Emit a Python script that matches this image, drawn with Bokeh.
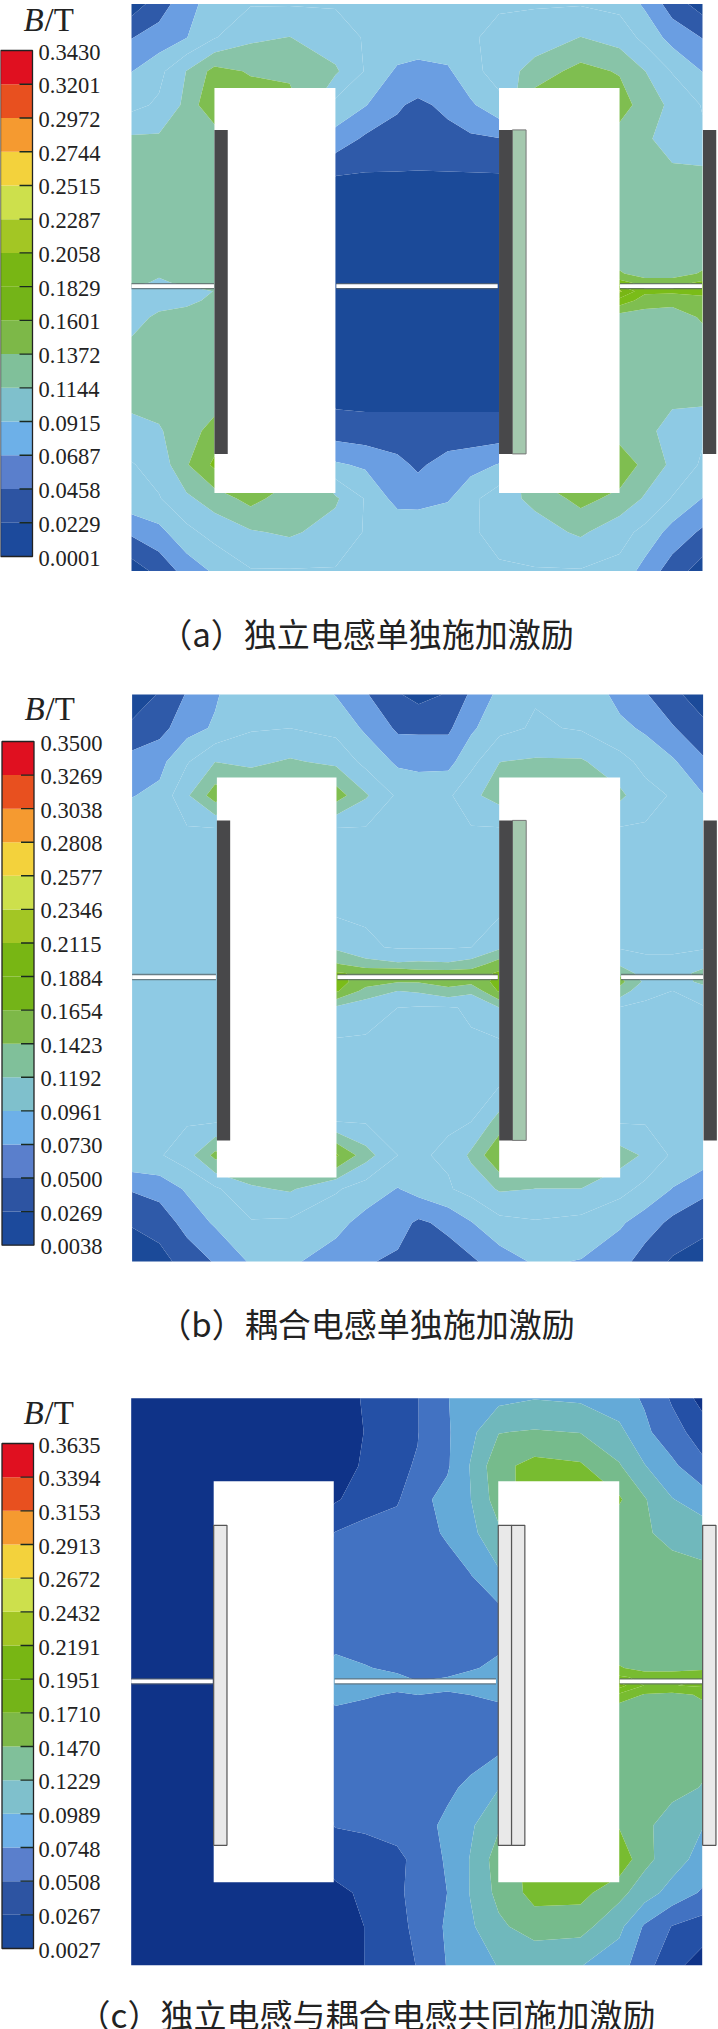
from bokeh.plotting import figure
from bokeh.models import Range1d
from bokeh.core.properties import value
from bokeh.embed import file_html
from bokeh.resources import INLINE
import numpy as np

# ---------- data ----------
caption_a = "（a）独立电感单独施加激励"
caption_b = "（b）耦合电感单独施加激励"
caption_c = "（c）独立电感与耦合电感共同施加激励"

ticks_a = ["0.0001","0.0229","0.0458","0.0687","0.0915","0.1144","0.1372","0.1601","0.1829","0.2058","0.2287","0.2515","0.2744","0.2972","0.3201","0.3430"]
ticks_b = ["0.0038","0.0269","0.0500","0.0730","0.0961","0.1192","0.1423","0.1654","0.1884","0.2115","0.2346","0.2577","0.2808","0.3038","0.3269","0.3500"]
ticks_c = ["0.0027","0.0267","0.0508","0.0748","0.0989","0.1229","0.1470","0.1710","0.1951","0.2191","0.2432","0.2672","0.2913","0.3153","0.3394","0.3635"]

# mesh nodes of the section (arbitrary length units across / down the core)
mesh_x = [0,60,120,181,260,345,445,510,580,625,690,740,802,880,980,1065,1120,1180,1246]
mesh_y = [0,80,160,240,320,420,520,600,640,662,682,704,744,824,924,1014,1094,1174,1254,1346]

# flux density at the mesh nodes, millitesla
field_a = [
 [10,35,60,80,90,90,90,90,90,90,90,90,90,90,90,85,65,35,12],
 [45,55,68,90,110,115,100,90,85,85,85,90,95,100,115,105,85,60,45],
 [68,85,115,145,135,130,118,90,65,60,65,85,100,125,145,135,115,90,68],
 [85,95,120,160,150,150,85,70,48,42,50,65,85,150,150,150,125,110,90],
 [118,118,118,120,125,125,60,42,40,38,40,42,45,125,125,125,120,100,95],
 [125,125,125,125,125,125,18,18,18,18,18,18,18,125,125,125,125,125,125],
 [125,125,125,125,125,125,10,10,10,10,10,10,10,125,125,125,125,125,125],
 [125,125,125,125,125,125,10,10,10,10,10,10,10,125,125,125,125,125,125],
 [118,118,120,125,125,125,10,10,10,10,10,10,10,125,125,140,125,125,140],
 [122,110,120,125,125,125,10,10,10,10,10,10,10,150,150,170,150,150,165],
 [105,100,105,115,125,125,10,10,10,10,10,10,10,165,165,210,165,165,165],
 [95,100,108,120,125,125,10,10,10,10,10,10,10,150,150,175,150,145,155],
 [100,122,125,125,125,125,12,12,12,12,12,12,12,125,125,125,125,125,140],
 [125,125,125,125,125,125,10,10,10,10,10,10,10,125,125,125,125,125,125],
 [125,125,125,125,125,125,14,14,14,14,14,14,14,125,125,125,125,125,125],
 [105,112,128,145,140,140,35,32,32,32,32,32,32,125,125,125,125,100,95],
 [90,100,135,165,150,150,72,65,52,42,55,60,70,150,150,155,130,110,88],
 [85,90,110,125,145,125,118,90,60,58,66,85,105,120,145,130,112,90,68],
 [50,62,85,100,112,118,105,90,88,90,90,90,95,105,118,100,85,60,42],
 [10,30,55,72,90,90,90,90,90,90,90,90,90,90,90,85,60,35,12],
]
field_b = [
 [12,29,52,70,94,92,72,52,29,19,29,54,79,94,94,64,52,32,16],
 [32,42,64,76,94,96,89,69,46,46,46,69,89,99,94,79,69,52,32],
 [59,66,94,119,114,122,114,89,69,66,66,89,119,122,122,104,89,76,54],
 [72,79,116,154,144,144,154,122,92,89,92,114,129,124,124,124,104,94,74],
 [89,94,94,94,94,94,94,94,94,94,94,94,94,94,94,94,94,94,89],
 [94,94,94,94,94,94,94,94,94,94,94,94,94,94,94,94,94,94,94],
 [94,94,94,94,94,94,94,94,94,94,94,94,94,94,94,94,94,94,94],
 [94,94,94,94,94,94,114,99,94,94,94,96,114,94,94,94,94,94,94],
 [94,94,94,94,94,94,144,129,122,124,122,129,154,94,94,114,99,99,109],
 [94,94,94,94,94,94,169,159,164,154,154,154,169,94,94,139,104,104,129],
 [94,94,94,94,94,94,174,154,144,144,154,149,174,94,94,149,114,109,124],
 [94,94,94,94,94,94,169,134,119,122,134,124,169,94,94,134,99,96,109],
 [94,94,94,94,94,94,114,104,96,94,94,99,119,94,94,94,94,94,94],
 [94,94,94,94,94,94,94,94,94,94,94,94,94,94,94,94,94,94,94],
 [94,94,94,94,94,94,94,94,94,94,94,94,94,94,94,94,94,94,94],
 [94,94,94,94,94,94,96,94,94,94,94,96,129,94,94,94,94,94,94],
 [94,94,109,149,144,144,169,129,96,94,99,124,164,134,134,129,116,92,86],
 [52,59,76,92,116,122,99,84,72,82,94,104,122,119,119,104,89,72,56],
 [29,36,59,76,94,92,79,66,59,46,56,72,89,94,89,76,62,44,34],
 [12,19,36,52,76,76,64,52,46,36,39,46,62,76,72,59,39,24,16],
]
field_c = [
 [10,10,10,10,10,12,20,28,40,50,74,85,92,98,95,85,72,48,18],
 [10,10,10,10,10,14,20,27,42,50,72,92,122,125,122,105,80,60,40],
 [10,10,10,10,10,14,22,28,48,52,72,100,140,155,150,125,100,80,56],
 [10,10,10,10,10,14,24,38,48,68,82,98,135,160,160,150,125,100,88],
 [10,10,10,10,10,10,52,60,62,65,78,92,118,128,128,130,125,118,110],
 [10,10,10,10,10,10,60,62,62,62,65,74,95,130,130,130,130,130,130],
 [10,10,10,10,10,10,62,62,62,62,60,60,65,130,130,130,130,130,130],
 [10,10,10,10,10,10,72,62,60,60,60,62,72,130,130,130,130,125,130],
 [10,10,10,10,10,10,88,78,65,62,62,70,85,130,130,150,135,135,140],
 [10,10,10,10,10,10,95,90,82,68,75,85,90,130,130,175,165,165,170],
 [10,10,10,10,10,10,95,90,85,82,80,88,88,130,130,205,170,170,175],
 [10,10,10,10,10,10,88,80,70,75,72,75,80,130,130,165,145,140,150],
 [10,10,10,10,10,10,68,60,60,60,60,62,68,130,130,128,128,128,140],
 [10,10,10,10,10,10,60,60,60,60,58,62,68,130,130,130,130,130,130],
 [10,10,10,10,10,10,60,60,60,60,70,80,98,130,130,130,130,130,122],
 [10,10,10,10,10,10,52,55,60,65,80,95,120,140,140,145,128,112,100],
 [10,10,10,10,10,10,35,38,45,58,78,100,135,155,155,165,130,110,90],
 [10,10,10,10,10,10,22,30,48,56,75,100,130,155,155,130,110,90,72],
 [10,10,10,10,10,12,16,27,42,58,78,95,118,135,132,105,72,50,40],
 [10,10,10,10,10,12,14,27,40,52,76,88,100,102,100,85,60,35,15],
]

# ---------- styles ----------
bar_colors = ["#1c4a9c","#2d54a2","#5a7fcc","#6db0e8","#7fc0cc","#80c09a","#7db848","#74b418",
              "#78b614","#a3c624","#cde04c","#f3d23c","#f59a30","#e8501f","#e01020"]
hot = ["#78b614","#a3c624","#cde04c","#f3d23c","#f59a30","#e8501f","#e01020"]
field_colors_ab = ["#1b4a99","#2f5aa9","#6a9ee2","#8ecae4","#8ecae4","#88c4a8","#7fbe50","#7abc18"] + hot
field_colors_c = ["#0f3388","#2450a6","#4272c2","#64aad8","#70b8bc","#76bb8c","#78bc30","#76bc20"] + hot

SX, SY = 571/1246, 567/1346   # mesh unit -> page px

panels = [
 dict(field=field_a, ticks=ticks_a, caption=caption_a, colors=field_colors_ab, left=131, top=3.4,
      win=[(181,445),(802,1065)], wy=(84,489), cy=(126,450), gap=(670,[(0,180),(447,799),(1066,1245)]),
      bar=(0,32,50,556), lab=38, title=(23,19), cap=(366,632), light=False),
 dict(field=field_b, ticks=ticks_b, caption=caption_b, colors=field_colors_ab, left=131.6, top=693.9,
      win=[(185,446),(801,1065)], wy=(83,483), cy=(126,446), gap=(671,[(0,183),(448,798),(1067,1246)]),
      bar=(1.5,33.5,741,1244.7), lab=40, title=(24,708.5), cap=(366,1322), light=False),
 dict(field=field_c, ticks=ticks_c, caption=caption_c, colors=field_colors_c, left=130.7, top=1397.8,
      win=[(180,442),(801,1065)], wy=(83,484), cy=(127,447), gap=(672,[(0,178),(444,796),(1066,1247)]),
      bar=(1.5,33,1443,1948), lab=38, title=(23,1412), cap=(366,2013), light=True),
]

p = figure(width=718, height=2029, x_range=Range1d(0,718), y_range=Range1d(2029,0),
           x_axis_location=None, y_axis_location=None, toolbar_location=None,
           output_backend="svg", min_border=0, outline_line_color=None,
           styles={"position":"absolute","left":"0px","top":"0px"})
p.grid.visible = False

for d in panels:
    L, T = d["left"], d["top"]
    xs = L + np.array(mesh_x)*SX
    ys = T + np.array(mesh_y)*SY
    levels = [float(t)*1000 for t in d["ticks"]]
    p.contour(xs, ys, np.array(d["field"],dtype=float), levels=levels,
              fill_color=d["colors"], line_color=None)
    # windows
    for a,b in d["win"]:
        p.quad(left=L+a*SX, right=L+b*SX, top=T+d["wy"][0], bottom=T+d["wy"][1],
               fill_color="white", line_color=None)
    # air gaps
    gy, spans = d["gap"]
    gpx = T + gy*SY
    for a,b in spans:
        p.quad(left=L+a*SX, right=L+b*SX, top=gpx-3.2, bottom=gpx+3.2, fill_color="#5c6468", line_color=None, fill_alpha=0.75)
        p.quad(left=L+a*SX, right=L+b*SX, top=gpx-1.9, bottom=gpx+1.9, fill_color="white", line_color=None)
    # coils
    w1 = d["win"][0][0]; w2 = d["win"][1][0]
    coil_top, coil_bot = T+d["cy"][0], T+d["cy"][1]
    if d["light"]:
        for a in (w1, w2, w2+29, 1247):
            p.quad(left=L+a*SX, right=L+(a+29)*SX, top=coil_top, bottom=coil_bot,
                   fill_color="#e9e9e9", line_color="#555555", line_width=1.2)
    else:
        p.quad(left=L+(w2+29)*SX, right=L+(w2+59)*SX, top=coil_top, bottom=coil_bot,
               fill_color="#a4c8ae", line_color="#777777", line_width=1)
        for a in (w1, w2, 1247):
            p.quad(left=L+a*SX, right=L+(a+29)*SX, top=coil_top, bottom=coil_bot,
                   fill_color="#48484a", line_color=None)
    # colour bar
    x0,x1,yt,yb = d["bar"]
    n = len(bar_colors)
    edges = yb + (yt-yb)*np.arange(n+1)/n
    p.quad(left=x0, right=x1, top=edges[1:], bottom=edges[:-1], fill_color=bar_colors, line_color=None)
    p.quad(left=x0, right=x1, top=yt, bottom=yb, fill_color=None, line_color="#222222", line_width=1.3)
    p.segment(x0=[x1-13]*(n-1), x1=[x1]*(n-1), y0=edges[1:-1], y1=edges[1:-1], line_color="#1a2a20", line_width=1.4)
    p.text(x=[d["lab"]]*(n+1), y=edges+1.5, text=d["ticks"], text_font=value("Liberation Serif"),
           text_font_size="22.5px", text_color="#222222", text_align="left", text_baseline="middle")
    # unit
    tx,ty = d["title"]
    p.text(x=[tx], y=[ty], text=["B"], text_font=value("Liberation Serif"), text_font_style="italic",
           text_font_size="33px", text_color="#222222", text_align="left", text_baseline="middle")
    p.text(x=[tx+21], y=[ty], text=["/T"], text_font=value("Liberation Serif"),
           text_font_size="33px", text_color="#222222", text_align="left", text_baseline="middle")
    # caption
    cx,cy = d["cap"]
    p.text(x=[cx], y=[cy], text=[d["caption"]], text_font=value("Noto Sans CJK SC"),
           text_font_size="33px", text_color="#222222", text_align="center", text_baseline="middle")

open("out.html","w").write(file_html(p, INLINE))
